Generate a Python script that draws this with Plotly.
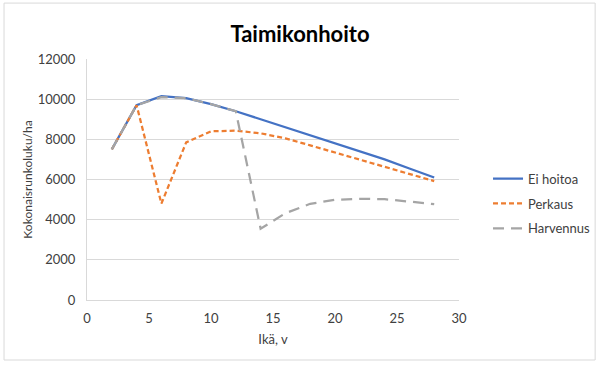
import plotly.graph_objects as go

ika = [2, 4, 6, 8, 10, 12, 14, 16, 18, 20, 22, 24, 26, 28]
ei_hoitoa = [7500, 9700, 10150, 10050, 9750, 9400, 9000, 8600, 8200, 7800, 7400, 7000, 6550, 6100]
perkaus = [7500, 9700, 4800, 7850, 8400, 8430, 8300, 8050, 7700, 7350, 7000, 6620, 6270, 5920]
harvennus = [7500, 9700, 10100, 10050, 9750, 9400, 3550, 4320, 4790, 4990, 5040, 5020, 4900, 4770]

FONT = "Lato, 'Open Sans', sans-serif"

fig = go.Figure()
fig.add_trace(go.Scatter(x=ika, y=ei_hoitoa, mode="lines", name="Ei hoitoa", legendgroup="a",
                         line=dict(color="#4472C4", width=2.25)))
fig.add_trace(go.Scatter(x=ika, y=perkaus, mode="lines", name="Perkaus", legendgroup="b",
                         line=dict(color="#ED7D31", width=2.25, dash="5px,3px")))
fig.add_trace(go.Scatter(x=ika, y=harvennus, mode="lines", name="Harvennus", legendgroup="c",
                         line=dict(color="#A5A5A5", width=2.25, dash="11px,7px")))

fig.update_layout(
    width=600, height=365,
    margin=dict(l=87, r=141, t=59, b=65, autoexpand=False),
    paper_bgcolor="white", plot_bgcolor="white",
    font=dict(family=FONT, size=12, color="#404040"),
    title=dict(text="<b>Taimikonhoito</b>", x=0.5, xref="container", xanchor="center",
               y=1 - 34 / 365, yref="container", yanchor="middle",
               font=dict(family=FONT, size=22, color="#000000")),
    xaxis=dict(range=[0, 30], dtick=5, tick0=0, showgrid=False, zeroline=False,
               showline=True, linecolor="#d9d9d9", linewidth=1, ticks="",
               automargin=False, ticklabelstandoff=6,
               tickfont=dict(size=13, color="#404040"),
               title=dict(text="Ikä, v", font=dict(size=13, color="#404040"), standoff=10)),
    yaxis=dict(range=[0, 12000], dtick=2000, tick0=0, showgrid=True, gridcolor="#d9d9d9",
               gridwidth=1, zeroline=False, showline=True, linecolor="#d9d9d9", linewidth=1,
               ticks="", tickformat="d", tickfont=dict(size=13, color="#404040"),
               automargin=False, ticklabelstandoff=8,
               title=dict(text="Kokonaisrunkoluku/ha", font=dict(size=12, color="#404040"),
                          standoff=2)),
    legend=dict(x=1.078, y=0.40, xanchor="left", yanchor="middle",
                font=dict(size=13, color="#404040"), itemwidth=30,
                traceorder="grouped", tracegroupgap=5, bgcolor="rgba(0,0,0,0)"),
    showlegend=True,
)

fig.add_shape(type="rect", xref="paper", yref="paper",
              x0=-0.223, x1=1.366, y0=-0.249, y1=1.232,
              line=dict(color="#d9d9d9", width=1), fillcolor="rgba(0,0,0,0)",
              layer="below")

fig.write_html("out.html", config={"displayModeBar": False})

with open("out.html", "r", encoding="utf-8") as f:
    html = f.read()
html = html.replace("<body>", '<body style="margin:0;padding:0;">', 1)
html = html.replace("<head>", '<head><style>html,body{margin:0;padding:0;overflow:hidden;}</style>', 1)
with open("out.html", "w", encoding="utf-8") as f:
    f.write(html)
